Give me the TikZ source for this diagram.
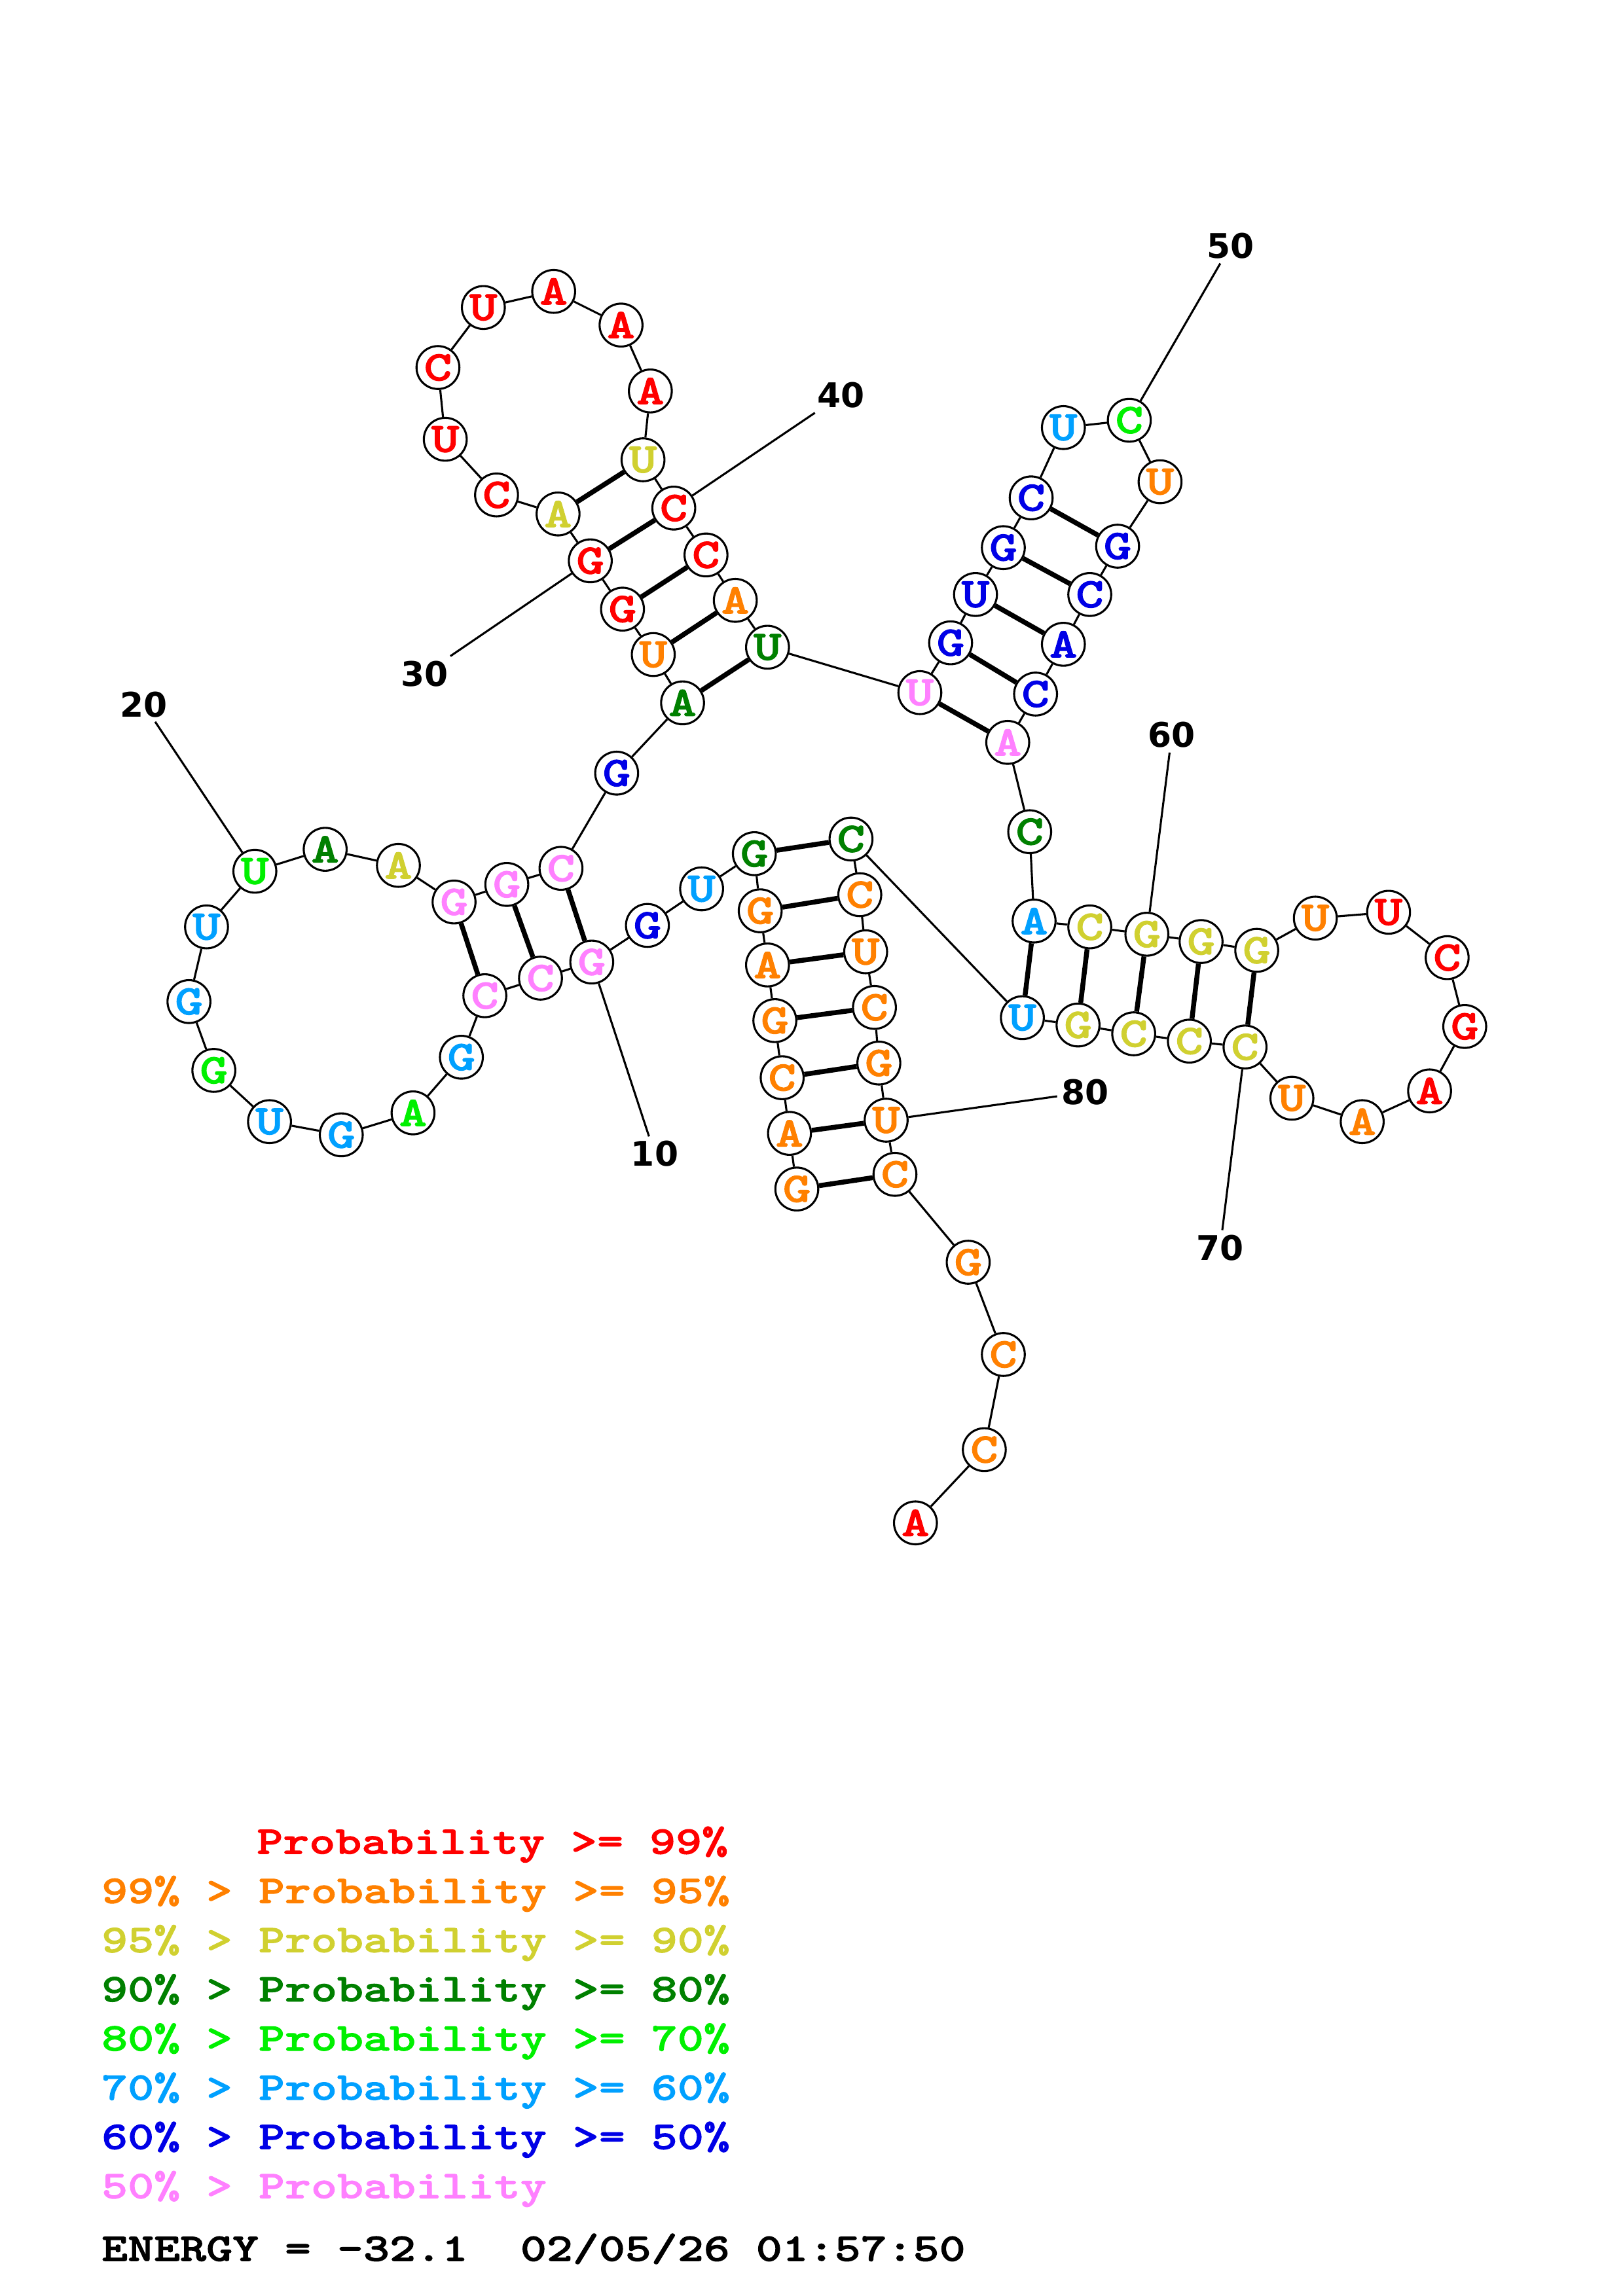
\documentclass[tikz,border=0pt]{standalone}
\usepackage{fontspec}
\newfontfamily\monof{lmmonolt10-bold}[Extension=.otf, FakeStretch=1.266, FakeBold=1.6]
\newfontfamily\numf{DejaVu Sans}
\definecolor{cR}{RGB}{255,0,0}
\definecolor{cO}{RGB}{255,128,0}
\definecolor{cY}{RGB}{208,208,48}
\definecolor{cD}{RGB}{0,128,0}
\definecolor{cG}{RGB}{0,240,0}
\definecolor{cS}{RGB}{0,160,255}
\definecolor{cB}{RGB}{0,0,230}
\definecolor{cP}{RGB}{255,128,255}
\tikzset{
  nuc/.style={circle, draw=black, line width=0.75pt, minimum size=0.555cm, inner sep=0pt, fill=white,
    font={\fontsize{15.5}{15.5}\selectfont\monof}},
  bb/.style={line width=0.75pt, black},
  bpair/.style={line width=1.8pt, black},
  numlab/.style={font={\fontsize{12.5}{13}\selectfont\numf\bfseries}, inner sep=1.5pt},
  leg/.style={anchor=base west, inner sep=0pt, font={\fontsize{14.5}{15}\selectfont\monof}}
}
\begin{document}
\begin{tikzpicture}[x=0.018953cm, y=-0.018953cm]
\useasboundingbox (0,0) rectangle (1108,1568);
\foreach \i/\b/\s/\x/\y in {
1/G/O/544/812, 2/A/O/539/774, 3/C/O/534/736, 4/G/O/529/697, 5/A/O/524/659,
6/G/O/519/622, 7/G/D/515/583, 8/U/S/479/607, 9/G/B/442/632, 10/G/P/404/657,
11/C/P/369/668, 12/C/P/331/680, 13/G/S/315/722, 14/A/G/282/760, 15/G/S/233/775,
16/U/S/184/766, 17/G/G/146/731, 18/G/S/129/684, 19/U/S/141/633, 20/U/G/174/595,
21/A/D/222/580, 22/A/Y/272/591, 23/G/P/310/616, 24/G/P/346/604, 25/C/P/383/593,
26/G/B/421/528, 27/A/D/466/480, 28/U/O/446/447, 29/G/R/425/416, 30/G/R/403/383,
31/A/Y/381/351, 32/C/R/339/338, 33/U/R/304/300, 34/C/R/299/251, 35/U/R/330/210,
36/A/R/378/199, 37/A/R/424/222, 38/A/R/444/267, 39/U/Y/439/314, 40/C/R/460/347,
41/C/R/482/379, 42/A/O/502/410, 43/U/D/524/442, 44/U/P/628/473, 45/G/B/649/439,
46/U/B/666/406, 47/G/B/685/374, 48/C/B/704/340, 49/U/S/726/292, 50/C/G/771/287,
51/U/O/792/329, 52/G/B/763/373, 53/C/B/744/406, 54/A/B/726/440, 55/C/B/707/474,
56/A/P/688/507, 57/C/D/703/568, 58/A/S/706/629, 59/C/Y/744/633, 60/G/Y/783/638,
61/G/Y/820/643, 62/G/Y/858/649, 63/U/O/898/627, 64/U/R/948/623, 65/C/R/988/654,
66/G/R/1000/701, 67/A/R/976/745, 68/A/O/930/766, 69/U/O/882/750, 70/C/Y/850/715,
71/C/Y/812/711, 72/C/Y/774/706, 73/G/Y/736/700, 74/U/S/698/695, 75/C/D/581/573,
76/C/O/587/611, 77/U/O/591/650, 78/C/O/597/688, 79/G/O/600/726, 80/U/O/605/765,
81/C/O/611/802, 82/G/O/661/862, 83/C/O/685/925, 84/C/O/672/990, 85/A/R/625/1040}
  \node[nuc, text=c\s] (n\i) at (\x,\y) {\b};
\foreach \i [evaluate=\i as \j using int(\i+1)] in {1,...,84}
  \draw[bb] (n\i) -- (n\j);
\foreach \a/\b in {1/81,2/80,3/79,4/78,5/77,6/76,7/75,10/25,11/24,12/23,
  27/43,28/42,29/41,30/40,31/39,44/56,45/55,46/54,47/53,48/52,
  58/74,59/73,60/72,61/71,62/70}
  \draw[bpair] (n\a) -- (n\b);
% position labels
\foreach \k/\x/\y in {10/447/788, 20/98/481, 30/290/460, 40/574/270,
  50/840/168, 60/800/502, 70/833/852, 80/741/746}
{
  \node[numlab] (t\k) at (\x,\y) {\k};
  \draw[bb] (n\k) -- (t\k);
}
% legend
\node[leg, text=cR] (lg1) at (175,1266) {Probability >= 99\%};
\node[leg, text=cO] (lg2) at (69,1299.6) {99\% > Probability >= 95\%};
\node[leg, text=cY] (lg3) at (69,1333.2) {95\% > Probability >= 90\%};
\node[leg, text=cD] (lg4) at (69,1366.8) {90\% > Probability >= 80\%};
\node[leg, text=cG] (lg5) at (69,1400.4) {80\% > Probability >= 70\%};
\node[leg, text=cS] (lg6) at (69,1434) {70\% > Probability >= 60\%};
\node[leg, text=cB] (lg7) at (69,1467.6) {60\% > Probability >= 50\%};
\node[leg, text=cP] (lg8) at (69,1501.2) {50\% > Probability};
\node[leg, text=black] (energy) at (69,1544) {ENERGY = -32.1~~02/05/26 01:57:50};
\end{tikzpicture}
\end{document}
